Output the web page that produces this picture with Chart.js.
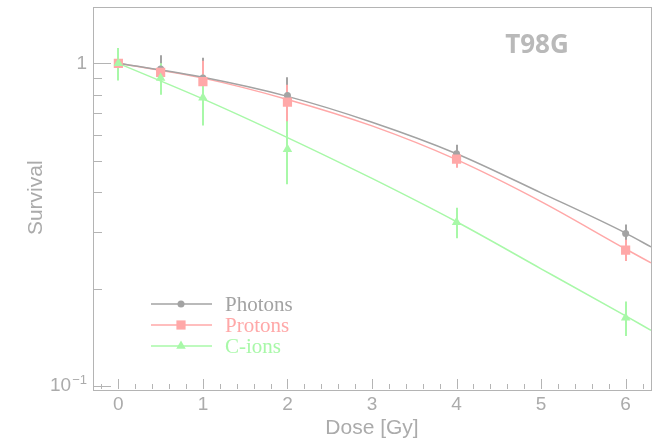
<!DOCTYPE html>
<html>
<head>
<meta charset="utf-8">
<title>T98G survival</title>
<script src="https://cdn.jsdelivr.net/npm/chart.js@4.4.0/dist/chart.umd.min.js"></script>
<style>
  body { margin: 0; background: #fff; }
  #survivalChart { display: block; }
</style>
</head>
<body>
<canvas id="survivalChart" width="662" height="444"></canvas>
<script>
// Measured points (dose in Gy)
const dose = [0, 0.5, 1, 2, 4, 6];
const photons = [1.0, 0.96, 0.90, 0.795, 0.525, 0.297];
const photonErr = [0, 0.10, 0.14, 0.11, 0.035, 0.02];
const protons = [1.0, 0.938, 0.878, 0.758, 0.505, 0.264];
const protonErr = [0, 0.06, 0.14, 0.10, 0.03, 0.02];
const cions = [1.0, 0.90, 0.782, 0.542, 0.322, 0.163];
const cionErr = [0.115, 0.10, 0.14, 0.12, 0.035, 0.02];

// Fit curves
const fitDose = [0, 1, 2, 3, 4, 5, 6, 6.3];
const photonFit = [1.0, 0.905, 0.79, 0.657, 0.525, 0.397, 0.298, 0.27];
const protonFit = [1.0, 0.90, 0.773, 0.64, 0.503, 0.373, 0.266, 0.241];
const cionFit = [1.0, 0.776, 0.589, 0.44, 0.323, 0.231, 0.165, 0.149];

// Axis ticks
const xTicks = [0, 1, 2, 3, 4, 5, 6];
const xMinor = [-0.2, 0.2, 0.4, 0.6, 0.8, 1.2, 1.4, 1.6, 1.8, 2.2, 2.4, 2.6, 2.8, 3.2, 3.4, 3.6, 3.8,
                4.2, 4.4, 4.6, 4.8, 5.2, 5.4, 5.6, 5.8, 6.2];
const yTicks = [0.1, 1];
const yTickLabels = [['10', '\u22121'], ['1', '']];
const yMinor = [0.2, 0.3, 0.4, 0.5, 0.6, 0.7, 0.8, 0.9];

const seriesNames = ['Photons', 'Protons', 'C-ions'];
const seriesColors = ['#a3a3a3', '#ffa8a8', '#a8f8a8'];
const seriesMarkers = ['circle', 'rect', 'triangle'];
const markerSizes = [3.5, 6.5, 5.5];

const axisColor = '#b4b4b4';
const textColor = '#ababab';

const toXY = (xs, ys) => xs.map((x, i) => ({x: x, y: ys[i]}));

const pointSets = [photons, protons, cions];
const errSets = [photonErr, protonErr, cionErr];
const fitSets = [photonFit, protonFit, cionFit];

const datasets = [];
// markers: C-ions on top
for (let k = 0; k < 3; k++) {
    datasets.push({
        label: seriesNames[k],
        data: toXY(dose, pointSets[k]),
        showLine: false,
        pointStyle: seriesMarkers[k],
        pointRadius: markerSizes[k],
        pointBackgroundColor: seriesColors[k],
        pointBorderColor: seriesColors[k],
        pointBorderWidth: 0,
        order: 3 - k
    });
}
for (let k = 0; k < 3; k++) {
    datasets.push({
        label: seriesNames[k] + ' fit',
        data: toXY(fitDose, fitSets[k]),
        showLine: true,
        borderColor: seriesColors[k],
        borderWidth: 1.5,
        pointRadius: 0,
        cubicInterpolationMode: 'monotone',
        fill: false,
        order: 10 + k
    });
}

// Draws error bars, frame, inside ticks, y labels, legend and the cell line tag
const rootStyle = {
    id: 'rootStyle',
    beforeDatasetsDraw(chart) {
        const ctx = chart.ctx;
        const xs = chart.scales.x, ys = chart.scales.y;
        ctx.save();
        ctx.lineWidth = 2;
        for (let k = 0; k < 3; k++) {
            ctx.strokeStyle = seriesColors[k];
            dose.forEach((d, i) => {
                const e = errSets[k][i];
                if (!e) return;
                const px = Math.round(xs.getPixelForValue(d));
                ctx.beginPath();
                ctx.moveTo(px, ys.getPixelForValue(pointSets[k][i] + e));
                ctx.lineTo(px, ys.getPixelForValue(pointSets[k][i] - e));
                ctx.stroke();
            });
        }
        ctx.restore();
    },
    afterDraw(chart) {
        const ctx = chart.ctx;
        const a = chart.chartArea;
        const xs = chart.scales.x, ys = chart.scales.y;
        ctx.save();
        ctx.strokeStyle = axisColor;
        ctx.lineWidth = 1;
        ctx.strokeRect(Math.round(a.left) + 0.5, Math.round(a.top) + 0.5,
                       Math.round(a.right - a.left), Math.round(a.bottom - a.top));

        ctx.beginPath();
        xTicks.forEach(v => {
            const px = Math.round(xs.getPixelForValue(v)) + 0.5;
            ctx.moveTo(px, a.bottom);
            ctx.lineTo(px, a.bottom - 10);
        });
        xMinor.forEach(v => {
            const px = Math.round(xs.getPixelForValue(v)) + 0.5;
            ctx.moveTo(px, a.bottom);
            ctx.lineTo(px, a.bottom - 5);
        });
        yTicks.forEach(v => {
            const py = Math.round(ys.getPixelForValue(v)) + 0.5;
            ctx.moveTo(a.left, py);
            ctx.lineTo(a.left + 18, py);
        });
        yMinor.forEach(v => {
            const py = Math.round(ys.getPixelForValue(v)) + 0.5;
            ctx.moveTo(a.left, py);
            ctx.lineTo(a.left + 9, py);
        });
        ctx.stroke();

        // y tick labels with superscript exponent
        ctx.fillStyle = textColor;
        ctx.textBaseline = 'middle';
        ctx.textAlign = 'right';
        yTicks.forEach((v, i) => {
            const py = ys.getPixelForValue(v);
            const base = yTickLabels[i][0], sup = yTickLabels[i][1];
            let right = a.left - 6;
            if (sup) {
                ctx.font = '13px "Liberation Sans"';
                ctx.fillText(sup, right, py - 6);
                right -= ctx.measureText(sup).width + 1;
            }
            ctx.font = '19px "Liberation Sans"';
            ctx.fillText(base, right, py);
        });

        // legend
        const legendY = [304, 325, 346];
        ctx.lineWidth = 1.5;
        for (let k = 0; k < 3; k++) {
            const y = legendY[k];
            ctx.strokeStyle = seriesColors[k];
            ctx.fillStyle = seriesColors[k];
            ctx.beginPath();
            ctx.moveTo(151, y);
            ctx.lineTo(212, y);
            ctx.stroke();
            Chart.helpers.drawPoint(ctx, {pointStyle: seriesMarkers[k], radius: markerSizes[k], borderWidth: 0}, 181, y);
            ctx.font = '21px "Liberation Serif"';
            ctx.textAlign = 'left';
            ctx.fillText(seriesNames[k], 225, y + 1);
        }

        // cell line tag
        ctx.fillStyle = '#b9b9b9';
        ctx.font = 'bold 26px "Open Sans"';
        ctx.textAlign = 'center';
        ctx.fillText('T98G', 537, 46);
        ctx.restore();
    }
};

const chart = new Chart(document.getElementById('survivalChart'), {
    type: 'scatter',
    data: { datasets: datasets },
    options: {
        responsive: false,
        animation: false,
        devicePixelRatio: 1,
        layout: { padding: { top: 6, right: 11, left: 0, bottom: 0 } },
        scales: {
            x: {
                type: 'linear',
                min: -0.3,
                max: 6.3,
                afterBuildTicks: s => { s.ticks = xTicks.map(v => ({value: v})); },
                afterFit: s => { s.height = 55; },
                grid: { display: false, drawTicks: false },
                border: { display: false },
                ticks: {
                    color: textColor,
                    autoSkip: false,
                    maxRotation: 0,
                    padding: 4,
                    font: { family: 'Liberation Sans', size: 19 }
                },
                title: {
                    display: true,
                    text: 'Dose [Gy]',
                    color: textColor,
                    font: { family: 'Liberation Sans', size: 21 },
                    padding: { top: 0, bottom: 3 }
                }
            },
            y: {
                type: 'logarithmic',
                min: 0.098,
                max: 1.5,
                afterFit: s => { s.width = 93; },
                grid: { display: false, drawTicks: false },
                border: { display: false },
                ticks: { display: false },
                title: {
                    display: true,
                    text: 'Survival',
                    color: textColor,
                    font: { family: 'Liberation Sans', size: 21 },
                    padding: { top: 24, bottom: 0 }
                }
            }
        },
        plugins: {
            legend: { display: false },
            tooltip: { enabled: false }
        }
    },
    plugins: [rootStyle]
});
</script>
</body>
</html>
